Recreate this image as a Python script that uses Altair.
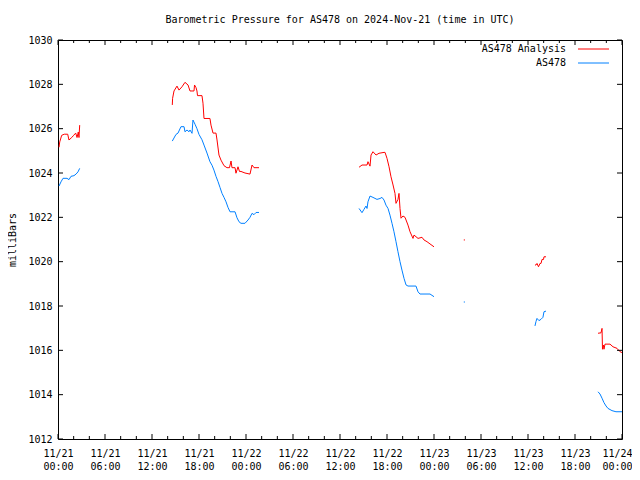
import altair as alt
import pandas as pd

# ---- data (hours since 2024-11-21 00:00 UTC, pressure in mb) ----
seg1_red_h = [0.13, 0.22, 0.47, 0.80, 1.24, 1.40, 1.75, 2.00, 2.26, 2.43, 2.59, 2.68, 2.77]
seg1_red_p = [1025.16, 1025.40, 1025.70, 1025.75, 1025.75, 1025.49, 1025.60, 1025.70, 1025.80, 1025.60, 1025.85, 1025.60, 1026.16]
seg1_blue_h = [0.13, 0.38, 0.64, 1.15, 1.40, 1.66, 2.04, 2.30, 2.55, 2.77]
seg1_blue_p = [1023.41, 1023.60, 1023.76, 1023.76, 1023.70, 1023.85, 1023.88, 1023.95, 1024.05, 1024.21]

seg2_red_h = [14.59, 14.63, 14.81, 15.19, 15.45, 15.83, 16.21, 16.60, 16.85, 17.36, 17.43, 17.62, 17.74, 17.81,
              18.38, 18.51, 18.64, 19.40, 19.53, 19.79, 20.17, 20.30, 20.55, 20.81, 21.19, 21.57, 21.89, 22.09,
              22.21, 22.60, 22.72, 22.98, 23.17, 23.36, 23.87, 24.51, 24.77, 25.02, 25.66]
seg2_red_p = [1027.07, 1027.37, 1027.70, 1027.92, 1027.74, 1027.89, 1028.09, 1027.97, 1027.70, 1027.70, 1027.97,
              1027.85, 1027.70, 1027.49, 1027.49, 1027.15, 1026.46, 1026.46, 1026.16, 1025.80, 1025.80, 1025.49,
              1024.81, 1024.58, 1024.33, 1024.24, 1024.24, 1024.54, 1024.24, 1024.24, 1023.99, 1024.28, 1024.07,
              1024.07, 1024.00, 1023.95, 1024.36, 1024.24, 1024.24]
seg2_blue_h = [14.59, 15.06, 15.32, 15.70, 16.09, 16.21, 16.47, 16.72, 16.85, 17.11, 17.23, 17.49, 17.74, 18.00,
               18.38, 18.64, 19.02, 19.40, 19.66, 19.91, 20.17, 20.43, 20.68, 20.94, 21.19, 21.45, 21.70, 21.96,
               22.60, 22.85, 23.11, 23.36, 23.87, 24.26, 24.51, 24.77, 25.02, 25.28, 25.66]
seg2_blue_p = [1025.44, 1025.74, 1025.80, 1026.09, 1026.09, 1025.86, 1025.94, 1025.86, 1025.94, 1025.79, 1026.39,
               1026.20, 1026.00, 1025.74, 1025.50, 1025.26, 1024.90, 1024.51, 1024.35, 1024.13, 1023.85, 1023.61,
               1023.35, 1023.08, 1022.90, 1022.70, 1022.45, 1022.25, 1022.25, 1021.98, 1021.80, 1021.73, 1021.73,
               1021.88, 1022.00, 1022.18, 1022.12, 1022.22, 1022.22]

seg3_red_h = [38.43, 38.81, 39.45, 39.57, 39.83, 39.96, 40.21, 40.60, 40.98, 41.62, 41.75, 42.00, 42.26, 42.51,
              42.77, 43.02, 43.15, 43.40, 43.53, 43.66, 43.79, 44.04, 44.30, 44.68, 44.94, 45.32, 45.45, 45.96,
              46.47, 46.72, 47.11, 47.49, 48.00]
seg3_red_p = [1024.26, 1024.36, 1024.36, 1024.51, 1024.31, 1024.81, 1024.96, 1024.81, 1024.89, 1024.93, 1024.93,
              1024.66, 1024.28, 1023.83, 1023.46, 1023.08, 1022.63, 1022.81, 1023.08, 1022.40, 1021.96, 1022.06,
              1022.00, 1021.65, 1021.35, 1021.05, 1021.20, 1021.05, 1021.10, 1020.98, 1020.90, 1020.80, 1020.67]
seg3_blue_h = [38.43, 38.81, 39.06, 39.32, 39.45, 39.57, 39.83, 40.21, 40.72, 41.11, 41.36, 41.62, 41.87, 42.13,
               42.38, 42.64, 42.89, 43.15, 43.40, 43.66, 43.91, 44.17, 44.43, 44.68, 45.70, 45.96, 46.21, 47.49, 48.00]
seg3_blue_p = [1022.40, 1022.21, 1022.36, 1022.51, 1022.40, 1022.70, 1022.96, 1022.90, 1022.81, 1022.85, 1022.90,
               1022.78, 1022.55, 1022.40, 1022.10, 1021.73, 1021.35, 1020.90, 1020.45, 1020.00, 1019.62, 1019.25,
               1018.95, 1018.90, 1018.90, 1018.64, 1018.54, 1018.54, 1018.42]

seg4_red_h = [51.80, 51.95]
seg4_red_p = [1020.98, 1020.98]
seg4_blue_h = [51.80, 51.95]
seg4_blue_p = [1018.18, 1018.18]

seg5_red_h = [60.89, 61.02, 61.15, 61.34, 61.53, 61.66, 61.79, 61.98, 62.04, 62.30]
seg5_red_p = [1019.85, 1019.85, 1019.92, 1019.77, 1019.92, 1019.92, 1020.10, 1020.10, 1020.22, 1020.22]
seg5_blue_h = [60.89, 61.02, 61.15, 61.40, 61.66, 61.91, 62.04, 62.30]
seg5_blue_p = [1017.10, 1017.30, 1017.44, 1017.34, 1017.40, 1017.49, 1017.74, 1017.77]

seg6_red_h = [68.94, 69.32, 69.45, 69.51, 69.64, 69.70, 69.83, 70.47, 70.85, 71.36, 71.74, 72.00]
seg6_red_p = [1016.77, 1016.79, 1016.99, 1016.05, 1016.24, 1016.05, 1016.28, 1016.28, 1016.16, 1016.09, 1015.94, 1015.90]
seg6_blue_h = [68.94, 69.19, 69.45, 69.70, 69.96, 70.21, 70.72, 71.23, 72.00]
seg6_blue_p = [1014.13, 1014.03, 1013.84, 1013.64, 1013.49, 1013.38, 1013.28, 1013.23, 1013.23]

series_names = ["AS478 Analysis", "AS478"]
series_colors = ["#ff0000", "#0080ff"]

x_major = list(range(0, 73, 6))
x_minor = [h for h in range(0, 73, 2) if h % 6 != 0]
y_ticks = list(range(1012, 1031, 2))

rows = []
segs = [
    (seg1_red_h, seg1_red_p, seg1_blue_h, seg1_blue_p),
    (seg2_red_h, seg2_red_p, seg2_blue_h, seg2_blue_p),
    (seg3_red_h, seg3_red_p, seg3_blue_h, seg3_blue_p),
    (seg4_red_h, seg4_red_p, seg4_blue_h, seg4_blue_p),
    (seg5_red_h, seg5_red_p, seg5_blue_h, seg5_blue_p),
    (seg6_red_h, seg6_red_p, seg6_blue_h, seg6_blue_p),
]
for i, (rh, rp, bh, bp) in enumerate(segs):
    for h, p in zip(rh, rp):
        rows.append({"hour": h, "p": p, "series": series_names[0], "seg": f"r{i}"})
    for h, p in zip(bh, bp):
        rows.append({"hour": h, "p": p, "series": series_names[1], "seg": f"b{i}"})
df = pd.DataFrame(rows)

FONT = "DejaVu Sans Mono"
W, H = 564, 399

xscale = alt.Scale(domain=[0, 72], nice=False, zero=False)
yscale = alt.Scale(domain=[1012, 1030], nice=False, zero=False)

label_expr = ("['11/' + (21 + floor(datum.value / 24)), "
              "(datum.value % 24 < 10 ? '0' : '') + (datum.value % 24) + ':00']")

lines = alt.Chart(df).mark_line(strokeWidth=1, interpolate="linear").encode(
    x=alt.X("hour:Q", scale=xscale,
            axis=alt.Axis(values=x_major, labelExpr=label_expr, title=None, grid=False,
                          labelPadding=9, labelLineHeight=13, labelFlush=False,
                          labelOverlap=False,
                          labelAlign={"expr": "datum.value == 72 ? 'right' : 'center'"},
                          labelOffset={"expr": "datum.value == 72 ? 10 : 0"})),
    y=alt.Y("p:Q", scale=yscale,
            axis=alt.Axis(values=y_ticks, title="milliBars", labelPadding=6, grid=False,
                          titlePadding=10, format="d", labelFlush=False)),
    color=alt.Color("series:N", scale=alt.Scale(domain=series_names, range=series_colors), legend=None),
    detail="seg:N",
    order="hour:Q",
)

maj_df = pd.DataFrame({"hour": x_major})
min_df = pd.DataFrame({"hour": x_minor})
yt_df = pd.DataFrame({"p": y_ticks})

tick_layers = []
for d, ln in ((maj_df, 5), (min_df, 3)):
    tick_layers.append(alt.Chart(d).mark_rule(color="black", strokeWidth=1).encode(
        x=alt.X("hour:Q", scale=xscale), y=alt.value(H), y2=alt.value(H - ln)))
    tick_layers.append(alt.Chart(d).mark_rule(color="black", strokeWidth=1).encode(
        x=alt.X("hour:Q", scale=xscale), y=alt.value(0), y2=alt.value(ln)))
tick_layers.append(alt.Chart(yt_df).mark_rule(color="black", strokeWidth=1).encode(
    y=alt.Y("p:Q", scale=yscale), x=alt.value(0), x2=alt.value(5)))
tick_layers.append(alt.Chart(yt_df).mark_rule(color="black", strokeWidth=1).encode(
    y=alt.Y("p:Q", scale=yscale), x=alt.value(W), x2=alt.value(W - 5)))

one = pd.DataFrame({"a": [0]})
legend_layers = []
for i, (name, col) in enumerate(zip(series_names, series_colors)):
    yy = 9 + i * 14
    legend_layers.append(alt.Chart(one).mark_text(
        font=FONT, fontSize=10, align="right", baseline="middle", color="black").encode(
        x=alt.value(508), y=alt.value(yy), text=alt.value(name)))
    legend_layers.append(alt.Chart(one).mark_rule(color=col, strokeWidth=1).encode(
        x=alt.value(520), x2=alt.value(551), y=alt.value(yy)))

chart = alt.layer(lines, *tick_layers, *legend_layers).properties(
    width=W, height=H,
    padding={"left": 50, "top": 32, "right": 10, "bottom": 33},
    autosize=alt.AutoSizeParams(type="none"),
    background="white",
    title=alt.TitleParams("Barometric Pressure for AS478 on 2024-Nov-21 (time in UTC)",
                          font=FONT, fontSize=10, fontWeight="normal", color="black",
                          anchor="middle", offset=10),
).configure_view(stroke="black", strokeWidth=1).configure_axis(
    grid=False, domain=False, ticks=False, labelFont=FONT, labelFontSize=10,
    labelColor="black", titleFont=FONT, titleFontSize=10, titleFontWeight="normal",
    titleColor="black",
)

chart.save("out.html", embed_options={"renderer": "svg", "actions": False})
